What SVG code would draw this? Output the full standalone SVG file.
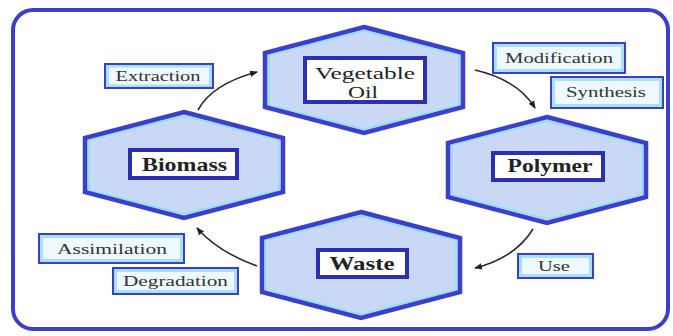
<svg xmlns="http://www.w3.org/2000/svg" xmlns:xlink="http://www.w3.org/1999/xlink" width="673" height="336" viewBox="0 0 673 336">
<style>
.frame{fill:#ffffff;stroke:#3b3fcc;stroke-width:4}
.hex{fill:#c9d9f5;stroke:#3a3fd0;stroke-width:4.5;stroke-linejoin:miter}
.hexin{fill:none;stroke:#8fe0f5;stroke-width:1.5}
.inner{fill:#ffffff;stroke:#2c2fb4;stroke-width:4}
.lbl{fill:#a6e2f7;stroke:#3a3fc8;stroke-width:2}
.lblin{fill:#eef8fd}
text{font-family:'Times New Roman',Times,'Liberation Serif','DejaVu Serif',serif;text-anchor:middle}
.nt{font-size:19px;fill:#222}
.nb{font-weight:bold}
.lt{font-size:15px;fill:#333}
.conn{fill:none;stroke:#2a2a2a;stroke-width:1.6}
</style>
<defs>
<polygon id="hexshape" points="0,-53 99,-27 99,27 0,53 -99,27 -99,-27"/>
<polygon id="hexinner" points="0,-49 95,-25 95,25 0,49 -95,25 -95,-25"/>
<marker id="ah" markerWidth="8" markerHeight="8" refX="7" refY="4" orient="auto" markerUnits="userSpaceOnUse">
<path d="M0,0.8 L8,4 L0,7.2 Z" fill="#222"/>
</marker>
</defs>
<rect class="frame" x="13" y="10" width="655" height="319" rx="20"/>

<g id="vegetable-oil">
<use href="#hexshape" class="hex" x="364" y="80"/>
<use href="#hexinner" class="hexin" x="364" y="80"/>
<rect class="inner" x="305" y="58" width="120" height="44"/>
<text class="nt" style="font-size:16.5px" x="365" y="78.5" textLength="100" lengthAdjust="spacingAndGlyphs">Vegetable</text>
<text class="nt" style="font-size:16.5px" x="363" y="98" textLength="30" lengthAdjust="spacingAndGlyphs">Oil</text>
</g>

<g id="biomass">
<use href="#hexshape" class="hex" x="184" y="165"/>
<use href="#hexinner" class="hexin" x="184" y="165"/>
<rect class="inner" x="130" y="150" width="107" height="28"/>
<text class="nt nb" x="184.5" y="170.5" textLength="85" lengthAdjust="spacingAndGlyphs">Biomass</text>
</g>

<g id="polymer">
<use href="#hexshape" class="hex" x="547" y="170"/>
<use href="#hexinner" class="hexin" x="547" y="170"/>
<rect class="inner" x="493" y="153" width="110" height="27"/>
<text class="nt nb" x="550" y="172" textLength="85" lengthAdjust="spacingAndGlyphs">Polymer</text>
</g>

<g id="waste">
<use href="#hexshape" class="hex" x="361" y="265"/>
<use href="#hexinner" class="hexin" x="361" y="265"/>
<rect class="inner" x="318" y="250" width="89" height="27"/>
<text class="nt nb" x="362" y="270" textLength="65" lengthAdjust="spacingAndGlyphs">Waste</text>
</g>

<g id="label-extraction">
<rect class="lbl" x="105" y="64" width="108" height="24"/>
<rect class="lblin" x="109" y="67.5" width="100" height="17"/>
<text class="lt" x="158" y="80.5" textLength="85" lengthAdjust="spacingAndGlyphs">Extraction</text>
</g>
<g id="label-modification">
<rect class="lbl" x="493" y="43" width="132" height="30"/>
<rect class="lblin" x="497" y="47" width="124" height="22"/>
<text class="lt" x="559" y="63" textLength="108" lengthAdjust="spacingAndGlyphs">Modification</text>
</g>
<g id="label-synthesis">
<rect class="lbl" x="551" y="77" width="112" height="31"/>
<rect class="lblin" x="555" y="81" width="104" height="23"/>
<text class="lt" x="606" y="97" textLength="80" lengthAdjust="spacingAndGlyphs">Synthesis</text>
</g>
<g id="label-assimilation">
<rect class="lbl" x="39" y="234" width="145" height="29"/>
<rect class="lblin" x="43" y="238" width="137" height="21"/>
<text class="lt" x="112" y="253.5" textLength="110" lengthAdjust="spacingAndGlyphs">Assimilation</text>
</g>
<g id="label-degradation">
<rect class="lbl" x="113" y="268" width="125" height="26"/>
<rect class="lblin" x="117" y="272" width="117" height="18"/>
<text class="lt" x="175.5" y="286" textLength="105" lengthAdjust="spacingAndGlyphs">Degradation</text>
</g>
<g id="label-use">
<rect class="lbl" x="518" y="254" width="75" height="24"/>
<rect class="lblin" x="522" y="258" width="67" height="16"/>
<text class="lt" x="554" y="270.5" textLength="32" lengthAdjust="spacingAndGlyphs">Use</text>
</g>

<g id="connectors">
<path class="conn" d="M198,110 Q212,84 257,72" marker-end="url(#ah)"/>
<path class="conn" d="M475,70 Q518,80 535,108" marker-end="url(#ah)"/>
<path class="conn" d="M533,229 Q515,258 475,268" marker-end="url(#ah)"/>
<path class="conn" d="M257,266 Q218,252 197,228" marker-end="url(#ah)"/>
</g>
</svg>
